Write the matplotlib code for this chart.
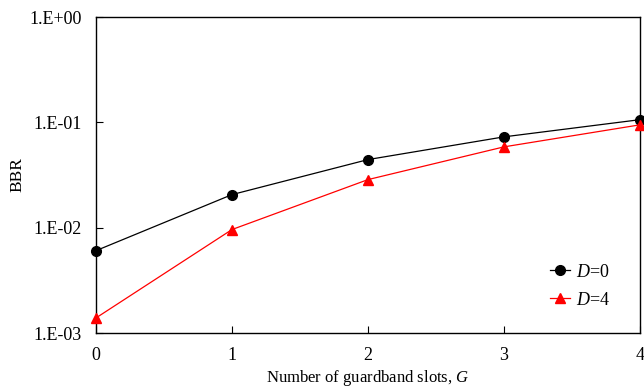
import numpy as np
import matplotlib.pyplot as plt
from matplotlib.ticker import FixedLocator, NullLocator

plt.rcParams['font.family'] = ['Liberation Serif', 'DejaVu Serif']
plt.rcParams['mathtext.fontset'] = 'custom'
plt.rcParams['mathtext.it'] = 'Liberation Serif:italic'
plt.rcParams['mathtext.rm'] = 'Liberation Serif'

############################
G = [0, 1, 2, 3, 4]
bbr_d0 = [0.00605, 0.0206, 0.0443, 0.0728, 0.106]
bbr_d4 = [0.00139, 0.0096, 0.0286, 0.0585, 0.0947]
yticks = [1e-3, 1e-2, 1e-1, 1e0]
ylabels = ['1.E-03', '1.E-02', '1.E-01', '1.E+00']
############################

fig = plt.figure(figsize=(6.44, 3.89), dpi=100)
ax = fig.add_axes([96/644, 56/389, 544/644, 316/389])
ax.plot(G, bbr_d0, c='black', lw=0.9, marker='o', ms=7, label=r'$D$=0', clip_on=False, zorder=3)
ax.plot(G, bbr_d4, c='red', lw=0.9, marker='^', ms=7, label=r'$D$=4', clip_on=False, zorder=3)
ax.set_yscale('log')
ax.set_xlim(0, 4)
ax.set_ylim(1e-3, 1e0)
ax.yaxis.set_major_locator(FixedLocator(yticks))
ax.yaxis.set_minor_locator(NullLocator())
ax.set_yticklabels(ylabels)
ax.set_xticks(G)
ax.tick_params(direction='in', length=5, width=0.8, labelsize=13, pad=10)
for s in ax.spines.values():
    s.set_linewidth(1.0)
ax.set_xlabel(r'Number of guardband slots, $G$', fontsize=12, labelpad=3)
ax.set_ylabel('BBR', fontsize=12.5, labelpad=3)
ax.legend(loc='lower right', frameon=False, fontsize=13, handlelength=1.1,
          handletextpad=0.35, labelspacing=0.6, bbox_to_anchor=(0.975, 0.026))
fig.savefig('out.png', dpi=100)
